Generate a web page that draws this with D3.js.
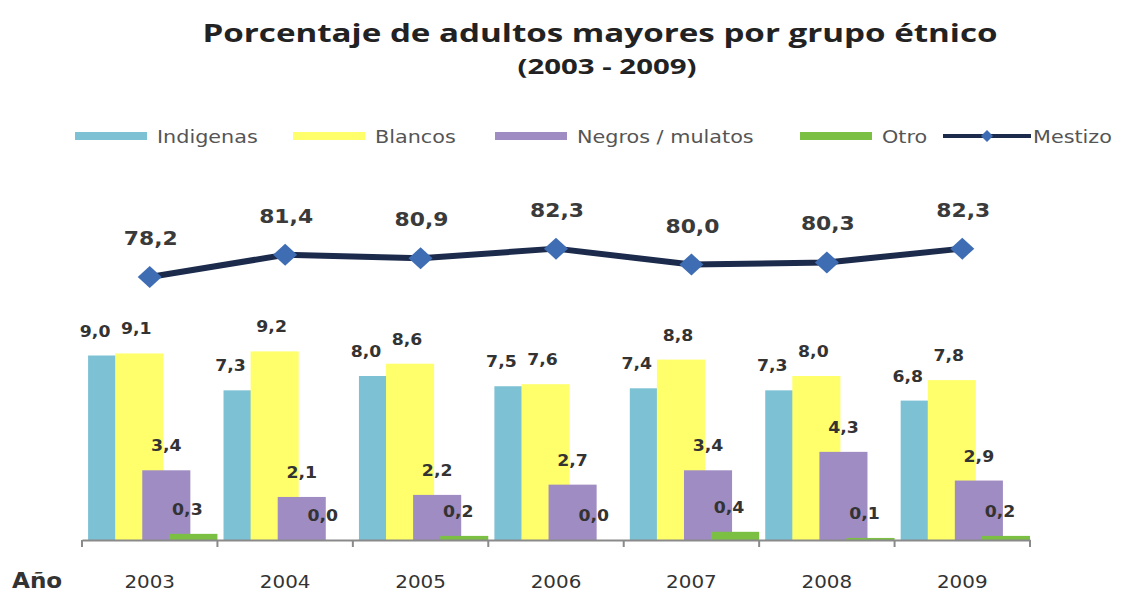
<!DOCTYPE html>
<html>
<head>
<meta charset="utf-8">
<script src="https://cdn.jsdelivr.net/npm/d3@7"></script>
<style>
  html, body { margin: 0; padding: 0; background: #fff; }
  svg { display: block; }
</style>
</head>
<body>
<svg id="chart"></svg>
<script>
const years = ["2003", "2004", "2005", "2006", "2007", "2008", "2009"];
const indigenas = [9.0, 7.3, 8.0, 7.5, 7.4, 7.3, 6.8];
const blancos = [9.1, 9.2, 8.6, 7.6, 8.8, 8.0, 7.8];
const negros = [3.4, 2.1, 2.2, 2.7, 3.4, 4.3, 2.9];
const otro = [0.3, 0.0, 0.2, 0.0, 0.4, 0.1, 0.2];
const mestizo = [78.2, 81.4, 80.9, 82.3, 80.0, 80.3, 82.3];
const seriesNames = ["Indigenas", "Blancos", "Negros / mulatos", "Otro", "Mestizo"];

const width = 1132;
const height = 595;
const colors = ["#7dc1d4", "#ffff6b", "#9f8cc2", "#7bc043"];
const lineColor = "#1c2b4c";
const markerColor = "#3f6db3";

const barSeries = [indigenas, blancos, negros, otro];
// small horizontal nudges of the value labels, as in the original
const labelShift = [-17, -3, 0, -6];

const svg = d3.select("#chart").attr("width", width).attr("height", height);

const fmt = function (v) { return d3.format(".1f")(v).replace(".", ","); };

// the picture is a bit wider than normal fonts, stretch text to match
function stretch(sel, k) {
    sel.each(function () {
        const w = this.getComputedTextLength();
        d3.select(this).attr("textLength", w * k).attr("lengthAdjust", "spacingAndGlyphs");
    });
}

const x = d3.scaleBand().domain(years).range([82, 1030]).padding(0);
const y = d3.scaleLinear().domain([0, 10]).range([540, 335]);
const y2 = d3.scaleLinear().domain([75, 85]).range([299, 230]);

const bw = x.bandwidth();
const barW = bw * 0.355;
const barStep = bw * 0.2;
const barOff = bw * 0.045;

// Title
svg.append("text")
    .attr("x", 600)
    .attr("y", 42)
    .attr("text-anchor", "middle")
    .attr("textLength", 795)
    .attr("lengthAdjust", "spacingAndGlyphs")
    .style("font-family", "Open Sans")
    .style("font-weight", "bold")
    .style("font-size", "25px")
    .style("fill", "#222")
    .text("Porcentaje de adultos mayores por grupo étnico");

svg.append("text")
    .attr("x", 607)
    .attr("y", 74)
    .attr("text-anchor", "middle")
    .attr("textLength", 179)
    .attr("lengthAdjust", "spacingAndGlyphs")
    .style("font-family", "Open Sans")
    .style("font-weight", "bold")
    .style("font-size", "21px")
    .style("fill", "#222")
    .text("(2003 - 2009)");

// Legend
const legendX = [75, 293, 495, 800, 943];
const legend = svg.append("g").attr("class", "legend");

seriesNames.forEach(function (name, i) {
    const g = legend.append("g");
    if (i < 4) {
        g.append("rect")
            .attr("x", legendX[i])
            .attr("y", 132)
            .attr("width", 72)
            .attr("height", 8)
            .attr("fill", colors[i]);
    } else {
        g.append("line")
            .attr("x1", legendX[i]).attr("x2", legendX[i] + 88)
            .attr("y1", 136).attr("y2", 136)
            .attr("stroke", lineColor)
            .attr("stroke-width", 4);
        g.append("path")
            .attr("transform", "translate(" + (legendX[i] + 44) + ",136)")
            .attr("d", "M0,-6L6,0L0,6L-6,0Z")
            .attr("fill", markerColor);
    }
    const t = g.append("text")
        .attr("x", i < 4 ? legendX[i] + 82 : legendX[i] + 90)
        .attr("y", 143)
        .style("font-family", "DejaVu Sans")
        .style("font-size", "17px")
        .style("fill", "#555")
        .text(name);
    stretch(t, 1.22);
});

// Bars
const bars = svg.append("g").attr("class", "bars");
barSeries.forEach(function (values, s) {
    bars.append("g")
        .selectAll("rect")
        .data(values)
        .enter()
        .append("rect")
        .attr("x", function (d, i) { return x(years[i]) + barOff + s * barStep; })
        .attr("y", function (d) { return y(d); })
        .attr("width", barW)
        .attr("height", function (d) { return y(0) - y(d); })
        .attr("fill", colors[s]);
});

// Bar value labels
const barLabels = svg.append("g").attr("class", "barLabels");
barSeries.forEach(function (values, s) {
    const t = barLabels.append("g")
        .selectAll("text")
        .data(values)
        .enter()
        .append("text")
        .attr("x", function (d, i) { return x(years[i]) + barOff + s * barStep + barW / 2 + labelShift[s]; })
        .attr("y", function (d) { return y(d) - 19; })
        .attr("text-anchor", "middle")
        .style("font-family", "DejaVu Sans")
        .style("font-weight", "bold")
        .style("font-size", "15px")
        .style("fill", "#333")
        .text(function (d) { return fmt(d); });
    stretch(t, 1.15);
});

// X axis
const axis = svg.append("g")
    .attr("transform", "translate(0," + y(0) + ")")
    .call(d3.axisBottom(x).tickSize(0).tickFormat(""));
axis.select(".domain").attr("stroke", "#8a8a8a").attr("stroke-width", 2);

axis.selectAll(".sep")
    .data(years.concat(["end"]))
    .enter()
    .append("line")
    .attr("class", "sep")
    .attr("x1", function (d, i) { return i < years.length ? x(d) : x(years[i - 1]) + bw; })
    .attr("x2", function (d, i) { return i < years.length ? x(d) : x(years[i - 1]) + bw; })
    .attr("y1", 0)
    .attr("y2", 7)
    .attr("stroke", "#8a8a8a")
    .attr("stroke-width", 2);

const yearText = svg.append("g")
    .selectAll("text")
    .data(years)
    .enter()
    .append("text")
    .attr("x", function (d) { return x(d) + bw / 2; })
    .attr("y", 588)
    .attr("text-anchor", "middle")
    .style("font-family", "DejaVu Sans")
    .style("font-size", "17px")
    .style("fill", "#333")
    .text(function (d) { return d; });
stretch(yearText, 1.17);

const anio = svg.append("text")
    .attr("x", 12)
    .attr("y", 588)
    .style("font-family", "DejaVu Sans")
    .style("font-weight", "bold")
    .style("font-size", "21px")
    .style("fill", "#333")
    .text("Año");
stretch(anio, 1.1);

// Mestizo line
const line = d3.line()
    .x(function (d, i) { return x(years[i]) + bw / 2; })
    .y(function (d) { return y2(d); });

svg.append("path")
    .datum(mestizo)
    .attr("fill", "none")
    .attr("stroke", lineColor)
    .attr("stroke-width", 6)
    .attr("stroke-linejoin", "round")
    .attr("d", line);

svg.append("g")
    .selectAll("path")
    .data(mestizo)
    .enter()
    .append("path")
    .attr("transform", function (d, i) { return "translate(" + (x(years[i]) + bw / 2) + "," + y2(d) + ")"; })
    .attr("d", "M0,-11L12,0L0,11L-12,0Z")
    .attr("fill", markerColor);

const lineLabels = svg.append("g")
    .selectAll("text")
    .data(mestizo)
    .enter()
    .append("text")
    .attr("x", function (d, i) { return x(years[i]) + bw / 2 + 1; })
    .attr("y", function (d) { return y2(d) - 32; })
    .attr("text-anchor", "middle")
    .style("font-family", "DejaVu Sans")
    .style("font-weight", "bold")
    .style("font-size", "19px")
    .style("fill", "#3a3a3a")
    .text(function (d) { return fmt(d); });
stretch(lineLabels, 1.15);
</script>
</body>
</html>
